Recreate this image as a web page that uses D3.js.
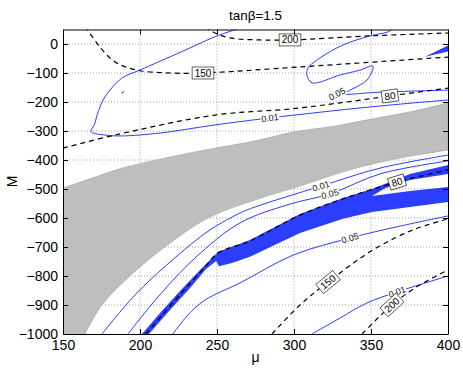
<!DOCTYPE html>
<html>
<head>
<meta charset="utf-8">
<script src="https://cdn.jsdelivr.net/npm/d3@7"></script>
<style>
body { margin: 0; background: #fff; }
text { font-family: "Liberation Sans", Arial, Helvetica, sans-serif; }
</style>
</head>
<body>
<svg id="chart" width="463" height="369"></svg>
<script>
const muTicks = [150, 200, 250, 300, 350, 400];
const mTicks = [-1000, -900, -800, -700, -600, -500, -400, -300, -200, -100, 0];

// excluded region (gray), edges as [mu, M]
const grayUpper = [[150,-497],[167.5,-465],[188.3,-428],[213,-397],[235.7,-372],[274.7,-334],[300,-303],[326.6,-283],[350,-259],[375.3,-234],[400,-203]];
const grayLower = [[164.3,-1000],[175.3,-900],[193.5,-800],[216.2,-700],[244.2,-600],[274.7,-538],[303.9,-490],[336.4,-434],[368.8,-393],[400,-366]];

// blue contours
const blueUpper01 = [[266.9,58.6],[248.7,25],[227.1,-26.5],[200,-89.7],[188.1,-118],[177.3,-182],[172.9,-233],[170.3,-279],[168.2,-302],[177.3,-314],[188.1,-317],[213,-307],[248.7,-279],[284.4,-255],[349.4,-217],[400,-193]];
const blueUpper05 = [[365.6,65.5],[362.3,45],[349.4,28],[331.8,-3.4],[316.9,-48],[309.1,-83],[308.4,-107],[311.7,-134],[329.9,-107],[342.9,-90],[351.3,-76],[347.4,-124],[336.4,-159],[331.8,-172],[355.8,-166],[400,-159]];
const blueDot = [[187.7,-170],[189.8,-164]];
const blueWedge = [[385.1,-44],[401,-3],[401,-25]];
const blueA = [[175.3,-1000],[196.8,-865],[219.5,-752],[245.5,-641],[264.9,-583],[274.7,-562],[317.5,-490],[355.8,-428],[400,-383]];
const blueB = [[192.2,-1000],[211.7,-872],[235.7,-738],[264.9,-617],[297.4,-552],[323.4,-517],[355.8,-448],[400,-403]];
const blueC = [[221.4,-1000],[231.2,-934],[242.2,-883],[264.9,-824],[299.4,-728],[336.4,-669],[368.8,-628],[400,-593]];
const blueD = [[311.7,-1000],[329.9,-945],[347.4,-893],[366.9,-855],[400,-800]];
const blueBand = [[201.3,-1000],[213.6,-924],[226.6,-848],[239,-779],[246.8,-738],[250.6,-717],[271.4,-676],[303.9,-586],[331.8,-531],[350.6,-500],[375.3,-448],[400,-417],
  [400,-448],[375.3,-469],[359.1,-497],[350.6,-524],[375.3,-507],[400,-493],[400,-545],[375.3,-562],[350.6,-579],[331.8,-603],[303.9,-652],[277.9,-717],[271.4,-734],[259.7,-755],[251.3,-766],[249.4,-748],[242.9,-776],[232.5,-841],[219.5,-917],[205.8,-1000]];

// black dashed contours
const dash80Upper = [[150,-359],[183.8,-314],[248.7,-245],[297.4,-224],[329.9,-203],[362.3,-179],[400,-152]];
const dash150Upper = [[164.9,62],[166.2,48],[174,-10],[183.8,-62],[198,-90],[219.5,-100],[240.9,-100],[303.9,-79],[400,-45]];
const dash200Upper = [[242.2,58.6],[248.7,38],[258.4,21],[277.9,14],[297.4,14],[349.4,28],[400,38]];
const dash80Lower = [[203.9,-1000],[216.2,-924],[229.2,-845],[242.2,-769],[250.6,-721],[271.4,-679],[303.9,-590],[331.8,-534],[366.9,-476],[400,-434]];
const dash150Lower = [[285.7,-1000],[303.9,-900],[322.1,-821],[351.3,-710],[377.3,-641],[400,-603]];
const dash200Lower = [[344.2,-1000],[354.5,-945],[363.6,-900],[378.6,-841],[400,-779]];

// contour labels: [text, line, mu, M]
const blueLabels = [
  ["0.01", blueUpper01, 284.4, -255],
  ["0.05", blueUpper05, 327.9, -172],
  ["0.01", blueA, 317.5, -490],
  ["0.05", blueB, 323.4, -517],
  ["0.05", blueC, 336.4, -669],
  ["0.01", blueD, 366.9, -855]
];
const dashLabels = [
  ["80", dash80Upper, 362.3, -179],
  ["150", dash150Upper, 240.9, -100],
  ["200", dash200Upper, 297.4, 14],
  ["80", dash80Lower, 366.9, -476],
  ["150", dash150Lower, 322.1, -821],
  ["200", dash200Lower, 363.6, -900]
];

const svg = d3.select("#chart");
const x = d3.scaleLinear().domain([150, 400]).range([63, 448]);
const y = d3.scaleLinear().domain([-1000, 50]).range([334, 29.5]);
const blue = "#2b3dff";

svg.append("defs").append("clipPath").attr("id", "plot")
  .append("rect")
  .attr("x", x(150)).attr("y", y(50))
  .attr("width", x(400) - x(150)).attr("height", y(-1000) - y(50));

// grid
const grid = svg.append("g").attr("stroke", "#8a8a8a").attr("stroke-width", 0.8).attr("stroke-dasharray", "1,2");
grid.selectAll(".gx").data(muTicks.slice(1, -1)).enter().append("line")
  .attr("x1", d => x(d)).attr("x2", d => x(d)).attr("y1", y(50)).attr("y2", y(-1000));
grid.selectAll(".gy").data(mTicks.slice(1)).enter().append("line")
  .attr("x1", x(150)).attr("x2", x(400)).attr("y1", d => y(d)).attr("y2", d => y(d));

const plot = svg.append("g").attr("clip-path", "url(#plot)");

const smooth = d3.line().x(d => x(d[0])).y(d => y(d[1])).curve(d3.curveCatmullRom.alpha(0.5));
const straight = d3.line().x(d => x(d[0])).y(d => y(d[1]));

// gray region
const up = smooth(grayUpper);
const low = smooth(grayLower.slice().reverse());
plot.append("path")
  .attr("d", up + "L" + low.slice(1) + "L" + x(148) + "," + y(-1010) + "L" + x(148) + "," + y(-497) + "Z")
  .attr("fill", "#bebebe").attr("stroke", "#9a9a9a").attr("stroke-width", 0.5);

// blue filled regions
plot.append("path").attr("d", straight(blueBand) + "Z").attr("fill", blue);
plot.append("path").attr("d", straight(blueWedge) + "Z").attr("fill", blue);

// blue lines
[blueUpper01, blueUpper05, blueDot, blueA, blueB, blueC, blueD].forEach(l => {
  plot.append("path").attr("d", smooth(l)).attr("fill", "none")
    .attr("stroke", blue).attr("stroke-width", 1);
});

// dashed lines
[dash80Upper, dash150Upper, dash200Upper, dash80Lower, dash150Lower, dash200Lower].forEach(l => {
  plot.append("path").attr("d", smooth(l)).attr("fill", "none")
    .attr("stroke", "#000").attr("stroke-width", 1.2).attr("stroke-dasharray", "5,4");
});

function angleAt(line, mu, m) {
  const px = x(mu), py = y(m);
  let best = null, bd = Infinity;
  for (let i = 0; i < line.length - 1; i++) {
    const ax = x(line[i][0]), ay = y(line[i][1]);
    const bx = x(line[i + 1][0]), by = y(line[i + 1][1]);
    const dx = bx - ax, dy = by - ay;
    let t = ((px - ax) * dx + (py - ay) * dy) / (dx * dx + dy * dy);
    t = Math.max(0, Math.min(1, t));
    const d = Math.hypot(ax + t * dx - px, ay + t * dy - py);
    if (d < bd) { bd = d; best = [dx, dy]; }
  }
  let a = Math.atan2(best[1], best[0]) * 180 / Math.PI;
  if (a > 90) a -= 180;
  if (a < -90) a += 180;
  return a;
}

blueLabels.forEach(([t, line, mu, m]) => {
  const g = plot.append("g")
    .attr("transform", `translate(${x(mu)},${y(m)}) rotate(${angleAt(line, mu, m)})`);
  g.append("rect").attr("x", -9.5).attr("y", -4.5).attr("width", 19).attr("height", 9).attr("fill", "#fff");
  g.append("text").attr("text-anchor", "middle").attr("dy", "0.35em")
    .attr("font-size", 9).attr("fill", "#111").text(t);
});

dashLabels.forEach(([t, line, mu, m]) => {
  const w = t.length * 5.6 + 5;
  const g = plot.append("g")
    .attr("transform", `translate(${x(mu)},${y(m)}) rotate(${angleAt(line, mu, m)})`);
  g.append("rect").attr("x", -w / 2).attr("y", -6).attr("width", w).attr("height", 12)
    .attr("fill", "#fff").attr("stroke", "#000").attr("stroke-width", 0.6);
  g.append("text").attr("text-anchor", "middle").attr("dy", "0.35em")
    .attr("font-size", 10).attr("fill", "#000").text(t);
});

// axes
const fmt = d3.format("d");
svg.append("g").attr("transform", `translate(0,${y(-1000)})`)
  .call(d3.axisBottom(x).tickValues(muTicks).tickFormat(fmt).tickSize(-5).tickSizeOuter(0).tickPadding(6))
  .call(g => g.selectAll("text").attr("font-size", 14).attr("fill", "#000"));
svg.append("g").attr("transform", `translate(${x(150)},0)`)
  .call(d3.axisLeft(y).tickValues(mTicks).tickFormat(fmt).tickSize(-5).tickSizeOuter(0).tickPadding(5))
  .call(g => g.selectAll("text").attr("font-size", 14).attr("fill", "#000"));
svg.append("g").attr("transform", `translate(0,${y(50)})`)
  .call(d3.axisTop(x).tickValues(muTicks).tickFormat("").tickSize(-5).tickSizeOuter(0));
svg.append("g").attr("transform", `translate(${x(400)},0)`)
  .call(d3.axisRight(y).tickValues(mTicks).tickFormat("").tickSize(-5).tickSizeOuter(0));
svg.selectAll(".domain").attr("stroke", "#000");
svg.selectAll(".tick line").attr("stroke", "#000");
svg.selectAll("g text").attr("font-family", "Liberation Sans, Arial, sans-serif");

svg.append("text").attr("x", 255.5).attr("y", 19.5).attr("text-anchor", "middle")
  .attr("font-size", 13.5).text("tanβ=1.5");
svg.append("text").attr("x", 255.5).attr("y", 362).attr("text-anchor", "middle")
  .attr("font-size", 14).text("μ");
svg.append("text").attr("transform", "translate(17,181.5) rotate(-90)").attr("text-anchor", "middle")
  .attr("font-size", 14).text("M");
</script>
</body>
</html>
